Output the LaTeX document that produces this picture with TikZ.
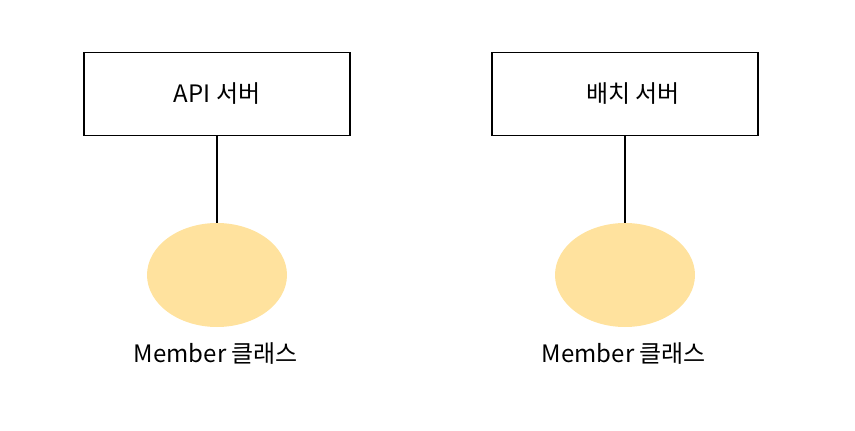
\documentclass[tikz,border=0pt]{standalone}
\usepackage{fontspec}
\setmainfont{Noto Sans CJK KR}
\usetikzlibrary{shapes.geometric}
\definecolor{ellfill}{HTML}{FFE29E}
\begin{document}
\begin{tikzpicture}[x=1pt,y=-1pt,
  server/.style={draw=black,line width=1.5pt,minimum width=266pt,minimum height=83pt,inner sep=0pt,font=\fontsize{24}{28}\selectfont},
  cls/.style={ellipse,fill=ellfill,minimum width=140pt,minimum height=104pt,inner sep=0pt},
  lbl/.style={font=\fontsize{24}{28}\selectfont,inner sep=0pt},
  link/.style={line width=1.5pt}]
\useasboundingbox (0,0) rectangle (855,431);
\node[server] (api) at (217,94) {API 서버\hspace{6pt}};
\node[server] (batch) at (625,94) {\hspace{16pt}배치 서버};
\node[cls] (m1) at (217,275) {};
\node[cls] (m2) at (625,275) {};
\node[lbl] (l1) at (216,354) {Member 클래스};
\node[lbl] (l2) at (624,354) {Member 클래스};
\draw[link] (api) -- (m1);
\draw[link] (batch) -- (m2);
\end{tikzpicture}
\end{document}
